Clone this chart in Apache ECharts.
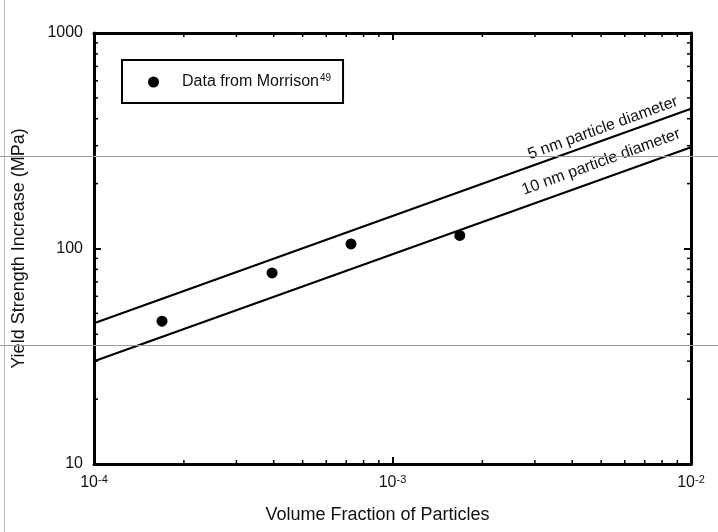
<!DOCTYPE html>
<html><head><meta charset="utf-8">
<script src="https://cdn.jsdelivr.net/npm/echarts@6/dist/echarts.min.js"></script>
<style>html,body{margin:0;padding:0;background:#fff}#c{width:718px;height:532px}</style>
</head><body><div id="c"></div>
<script>
// ---- data ----
const morrisonX = [1.69e-4, 3.95e-4, 7.26e-4, 1.68e-3];
const morrisonY = [46, 77, 105, 115];
const lineX = [1e-4, 1e-2];
const line5nm = [45, 445];
const line10nm = [30, 295];
const xMinorTicks = [2e-4,3e-4,4e-4,5e-4,6e-4,7e-4,8e-4,9e-4,2e-3,3e-3,4e-3,5e-3,6e-3,7e-3,8e-3,9e-3];
const yMinorTicks = [20,30,40,50,60,70,80,90,200,300,400,500,600,700,800,900];
const seriesNames = ['Data from Morrison', '5 nm particle diameter', '10 nm particle diameter'];
const legendSup = '49';
const label5Anchor = [5.07e-3, 362];
const label10Anchor = [5.0e-3, 252];
const xTitle = 'Volume Fraction of Particles';
const yTitle = 'Yield Strength Increase (MPa)';

const FONT = "'Liberation Sans', Arial, sans-serif";
const TXT = '#111';

const chart = echarts.init(document.getElementById('c'), null, {renderer: 'canvas'});

function expFmt(v) {
  const e = Math.round(Math.log10(v));
  return '{b|10}{s|' + e + '}';
}
const axisLine = {show: true, lineStyle: {color: '#000', width: 3}};
const majorTick = {show: true, inside: true, length: 7, lineStyle: {color: '#000', width: 2}};

const option = {
  animation: false,
  backgroundColor: '#fff',
  textStyle: {fontFamily: FONT},
  grid: {left: 94, right: 27, top: 33, bottom: 68, containLabel: false},
  legend: {
    show: true,
    data: [seriesNames[0]],
    left: 122, top: 60,
    padding: [13, 12, 13, 26],
    borderColor: '#000', borderWidth: 2, borderRadius: 0,
    itemWidth: 11, itemHeight: 11, icon: 'circle',
    itemStyle: {color: '#000', opacity: 1},
    formatter: n => '{t|' + n + '}{s|' + legendSup + '}',
    textStyle: {
      color: TXT, fontFamily: FONT,
      rich: {
        t: {fontSize: 16, color: TXT, fontFamily: FONT, padding: [0, 0, 0, 18]},
        s: {fontSize: 10, color: TXT, fontFamily: FONT, verticalAlign: 'top', padding: [0, 0, 8, 1]}
      }
    }
  },
  xAxis: [
    {
      type: 'log', logBase: 10, min: 1e-4, max: 1e-2, position: 'bottom',
      axisLine: axisLine, axisTick: majorTick, splitLine: {show: false}, minorTick: {show: false},
      axisLabel: {
        margin: 10, formatter: expFmt,
        rich: {
          b: {fontSize: 16, color: TXT, fontFamily: FONT},
          s: {fontSize: 11, color: TXT, fontFamily: FONT, verticalAlign: 'top', padding: [0, 0, 7, 0]}
        }
      },
      name: xTitle, nameLocation: 'middle', nameGap: 42,
      nameTextStyle: {fontSize: 18, color: TXT, fontFamily: FONT, padding: [0, 30, 0, 0]}
    },
    {
      type: 'log', logBase: 10, min: 1e-4, max: 1e-2, position: 'top',
      axisLine: axisLine, axisTick: majorTick, splitLine: {show: false},
      axisLabel: {show: false}
    }
  ],
  yAxis: [
    {
      type: 'log', logBase: 10, min: 10, max: 1000, position: 'left',
      axisLine: axisLine, axisTick: majorTick, splitLine: {show: false},
      axisLabel: {margin: 11, fontSize: 16, color: TXT, fontFamily: FONT, formatter: v => String(Math.round(v))},
      name: yTitle, nameLocation: 'middle', nameGap: 66, nameRotate: 90,
      nameTextStyle: {fontSize: 18, color: TXT, fontFamily: FONT, padding: [0, 0, 0, 0]}
    },
    {
      type: 'log', logBase: 10, min: 10, max: 1000, position: 'right',
      axisLine: axisLine, axisTick: majorTick, splitLine: {show: false},
      axisLabel: {show: false}
    }
  ],
  graphic: [
    {type: 'line', shape: {x1: 0, y1: 156.5, x2: 718, y2: 156.5}, style: {stroke: '#9a9a9a', lineWidth: 1}, z: 100},
    {type: 'line', shape: {x1: 0, y1: 345.5, x2: 718, y2: 345.5}, style: {stroke: '#9a9a9a', lineWidth: 1}, z: 100},
    {type: 'line', shape: {x1: 4.5, y1: 0, x2: 4.5, y2: 532}, style: {stroke: '#bbbbbb', lineWidth: 1}, z: 100}
  ],
  series: [
    {
      name: seriesNames[0], type: 'scatter', symbol: 'circle', symbolSize: 11,
      itemStyle: {color: '#000', opacity: 1},
      emphasis: {disabled: true},
      data: morrisonX.map((x, i) => [x, morrisonY[i]]), z: 5
    },
    {
      name: seriesNames[1], type: 'line', symbol: 'none', silent: true,
      lineStyle: {color: '#000', width: 2.2},
      data: lineX.map((x, i) => [x, line5nm[i]])
    },
    {
      name: seriesNames[2], type: 'line', symbol: 'none', silent: true,
      lineStyle: {color: '#000', width: 2.2},
      data: lineX.map((x, i) => [x, line10nm[i]])
    },
    {
      name: 'lineLabels', type: 'scatter', symbolSize: 0, silent: true,
      itemStyle: {opacity: 1},
      data: [
        {name: seriesNames[1], value: label5Anchor},
        {name: seriesNames[2], value: label10Anchor}
      ],
      label: {show: true, position: 'inside', formatter: '{b}', rotate: 20,
        fontSize: 16, color: TXT, fontFamily: FONT, opacity: 1}
    },
    {
      name: 'xMinor', type: 'custom', silent: true,
      data: xMinorTicks.map(v => [v, 10]),
      renderItem: (params, api) => {
        const v = api.value(0);
        const b = api.coord([v, 10]);
        const t = api.coord([v, 1000]);
        return {type: 'group', children: [
          {type: 'line', shape: {x1: b[0], y1: b[1], x2: b[0], y2: b[1] - 4}, style: {stroke: '#000', lineWidth: 1.5}},
          {type: 'line', shape: {x1: t[0], y1: t[1], x2: t[0], y2: t[1] + 4}, style: {stroke: '#000', lineWidth: 1.5}}
        ]};
      }
    },
    {
      name: 'yMinor', type: 'custom', silent: true,
      data: yMinorTicks.map(v => [1e-4, v]),
      renderItem: (params, api) => {
        const v = api.value(1);
        const l = api.coord([1e-4, v]);
        const r = api.coord([1e-2, v]);
        return {type: 'group', children: [
          {type: 'line', shape: {x1: l[0], y1: l[1], x2: l[0] + 4, y2: l[1]}, style: {stroke: '#000', lineWidth: 1.5}},
          {type: 'line', shape: {x1: r[0], y1: r[1], x2: r[0] - 4, y2: r[1]}, style: {stroke: '#000', lineWidth: 1.5}}
        ]};
      }
    }
  ]
};
chart.setOption(option);
</script>
</body></html>
